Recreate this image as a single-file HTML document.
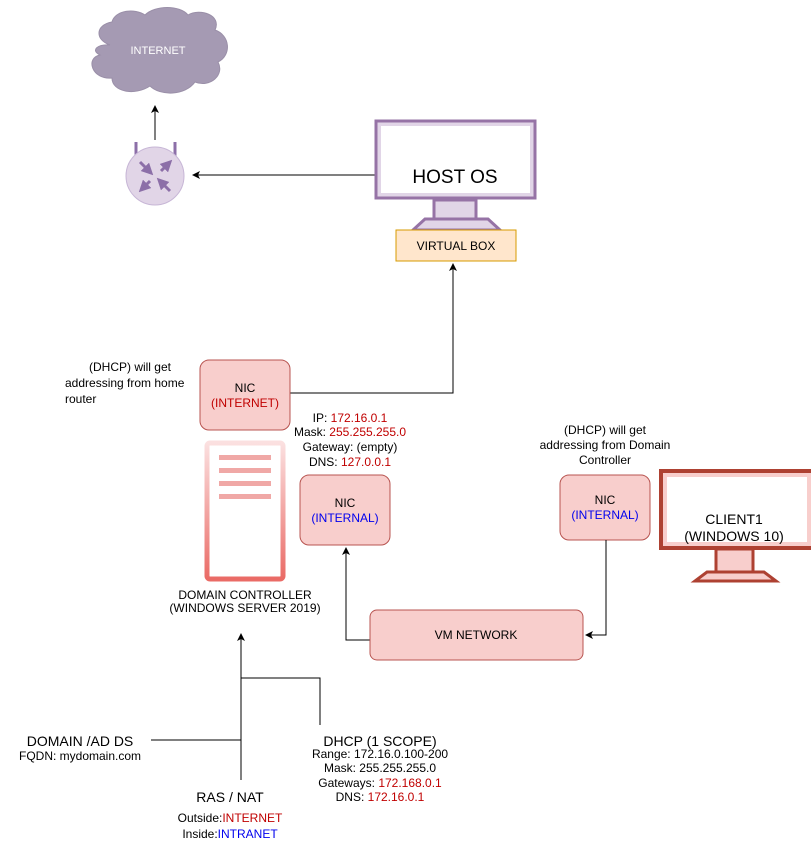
<!DOCTYPE html>
<html><head><meta charset="utf-8"><style>
html,body{margin:0;padding:0;background:#fff;}
svg{display:block;font-family:"Liberation Sans",Arial,sans-serif;}
.r{fill:#c00000}.b{fill:#0000ee}
</style></head><body>
<svg width="811" height="861" viewBox="0 0 811 861" xmlns="http://www.w3.org/2000/svg">
<defs>
<marker id="a" markerWidth="8" markerHeight="8" refX="7" refY="4" orient="auto" markerUnits="userSpaceOnUse"><path d="M0,0 L8,4 L0,8 L2,4 z" fill="#000"/></marker>
<marker id="p" markerWidth="4" markerHeight="4" refX="2" refY="2" orient="auto" markerUnits="strokeWidth"><path d="M0,0 L4,2 L0,4 z" fill="#8c6fa8"/></marker>
<linearGradient id="g" x1="0" y1="0" x2="0" y2="1"><stop offset="0" stop-color="#fbe0e0"/><stop offset="1" stop-color="#ea6b66"/></linearGradient>
</defs>
<!-- cloud -->
<path d="M110,45 C95,40 95,25 112,22 C115,10 135,8 145,15 C155,5 180,5 188,15 C200,8 222,15 215,30 C230,35 232,55 218,62 C225,75 210,88 195,82 C185,96 160,96 150,86 C135,96 112,92 112,78 C92,80 85,58 100,55 C90,50 98,44 110,45 z" fill="#a59ab3" stroke="#9a8fa8"/>
<text x="158" y="54" font-size="11" fill="#fff" text-anchor="middle">INTERNET</text>
<!-- router -->
<line x1="155" y1="140" x2="155" y2="106" stroke="#000" marker-end="url(#a)"/>
<line x1="136" y1="142" x2="136" y2="158" stroke="#8c6fa8" stroke-width="3"/>
<line x1="175" y1="142" x2="175" y2="158" stroke="#8c6fa8" stroke-width="3"/>
<circle cx="155" cy="176" r="29" fill="#e1d5e7" stroke="#c7b6d6"/>
<g stroke="#8c6fa8" stroke-width="3">
<line x1="140" y1="162" x2="149" y2="171" marker-end="url(#p)"/>
<line x1="161" y1="171" x2="168" y2="164" marker-end="url(#p)"/>
<line x1="150" y1="181" x2="143" y2="188" marker-end="url(#p)"/>
<line x1="170" y1="191" x2="161" y2="182" marker-end="url(#p)"/>
</g>
<line x1="375" y1="175" x2="193" y2="175" stroke="#000" marker-end="url(#a)"/>
<!-- host -->
<rect x="376" y="121" width="159" height="77" fill="#e1d5e7" stroke="#9673a6" stroke-width="3"/>
<rect x="381" y="126" width="149" height="67" fill="#fff"/>
<text x="455" y="183" font-size="19" text-anchor="middle">HOST OS</text>
<rect x="434" y="200" width="42" height="19" fill="#e1d5e7" stroke="#9673a6" stroke-width="3"/>
<path d="M425,219 L488,219 L500,230 L413,230 z" fill="#e1d5e7" stroke="#9673a6" stroke-width="3"/>
<rect x="396" y="230" width="120" height="31" fill="#ffe6cc" stroke="#d79b00"/>
<text x="456" y="250" font-size="12" text-anchor="middle">VIRTUAL BOX</text>
<polyline points="290,393 453,393 453,264" fill="none" stroke="#000" marker-end="url(#a)"/>
<!-- left text -->
<g font-size="12">
<text x="130" y="371" text-anchor="middle">(DHCP) will get</text>
<text x="65" y="387">addressing from home</text>
<text x="65" y="403">router</text>
</g>
<!-- NIC internet -->
<rect x="200" y="360" width="90" height="70" rx="9" fill="#f8cecc" stroke="#b85450"/>
<text x="245" y="392" font-size="12" text-anchor="middle">NIC</text>
<text x="245" y="407" font-size="12" text-anchor="middle" class="r">(INTERNET)</text>
<!-- server -->
<rect x="207" y="443" width="76" height="136" rx="3" fill="#fff" stroke="url(#g)" stroke-width="5"/>
<g fill="#f0a8a6"><rect x="219" y="455" width="52" height="5"/><rect x="219" y="468" width="52" height="5"/><rect x="219" y="481" width="52" height="5"/><rect x="219" y="494" width="52" height="5"/></g>
<g font-size="12" text-anchor="middle">
<text x="245" y="599">DOMAIN CONTROLLER</text>
<text x="245" y="612">(WINDOWS SERVER 2019)</text>
<text x="350" y="422">IP: <tspan class="r">172.16.0.1</tspan></text>
<text x="350" y="436">Mask: <tspan class="r">255.255.255.0</tspan></text>
<text x="350" y="451">Gateway: (empty)</text>
<text x="350" y="466">DNS: <tspan class="r">127.0.0.1</tspan></text>
</g>
<rect x="300" y="475" width="90" height="70" rx="9" fill="#f8cecc" stroke="#b85450"/>
<text x="345" y="507" font-size="12" text-anchor="middle">NIC</text>
<text x="345" y="522" font-size="12" text-anchor="middle" class="b">(INTERNAL)</text>
<polyline points="370,640 346,640 346,548" fill="none" stroke="#000" marker-end="url(#a)"/>
<!-- VM network -->
<rect x="370" y="610" width="213" height="50" rx="7" fill="#f8cecc" stroke="#b85450"/>
<text x="476" y="639" font-size="12" text-anchor="middle">VM NETWORK</text>
<!-- client -->
<g font-size="12" text-anchor="middle">
<text x="605" y="434">(DHCP) will get</text>
<text x="605" y="449">addressing from Domain</text>
<text x="605" y="464">Controller</text>
</g>
<rect x="560" y="475" width="90" height="65" rx="9" fill="#f8cecc" stroke="#b85450"/>
<text x="605" y="504" font-size="12" text-anchor="middle">NIC</text>
<text x="605" y="519" font-size="12" text-anchor="middle" class="b">(INTERNAL)</text>
<polyline points="606,540 606,635 586,635" fill="none" stroke="#000" marker-end="url(#a)"/>
<rect x="661" y="471" width="152" height="77" fill="#f8cecc" stroke="#ae4132" stroke-width="4"/>
<rect x="667" y="477" width="140" height="65" fill="#fff"/>
<text x="734" y="524" font-size="14" text-anchor="middle">CLIENT1</text>
<text x="734" y="541" font-size="14" text-anchor="middle">(WINDOWS 10)</text>
<rect x="716" y="549" width="37" height="23" fill="#f8cecc" stroke="#ae4132" stroke-width="3"/>
<path d="M707,572 L764,572 L776,581 L695,581 z" fill="#f8cecc" stroke="#ae4132" stroke-width="3"/>
<!-- bottom -->
<line x1="241" y1="780" x2="241" y2="634" stroke="#000" marker-end="url(#a)"/>
<polyline points="241,678 320,678 320,725" fill="none" stroke="#000"/>
<line x1="151" y1="740" x2="241" y2="740" stroke="#000"/>
<text x="80" y="746" font-size="14" text-anchor="middle">DOMAIN /AD DS</text>
<text x="80" y="760" font-size="12" text-anchor="middle">FQDN: mydomain.com</text>
<g text-anchor="middle">
<text x="380" y="746" font-size="14">DHCP (1 SCOPE)</text>
<text x="380" y="758" font-size="12">Range: 172.16.0.100-200</text>
<text x="380" y="772" font-size="12">Mask: 255.255.255.0</text>
<text x="380" y="787" font-size="12">Gateways: <tspan class="r">172.168.0.1</tspan></text>
<text x="380" y="801" font-size="12">DNS: <tspan class="r">172.16.0.1</tspan></text>
<text x="230" y="802" font-size="14">RAS / NAT</text>
<text x="230" y="822" font-size="12">Outside:<tspan class="r">INTERNET</tspan></text>
<text x="230" y="838" font-size="12">Inside:<tspan class="b">INTRANET</tspan></text>
</g>
</svg>
</body></html>
